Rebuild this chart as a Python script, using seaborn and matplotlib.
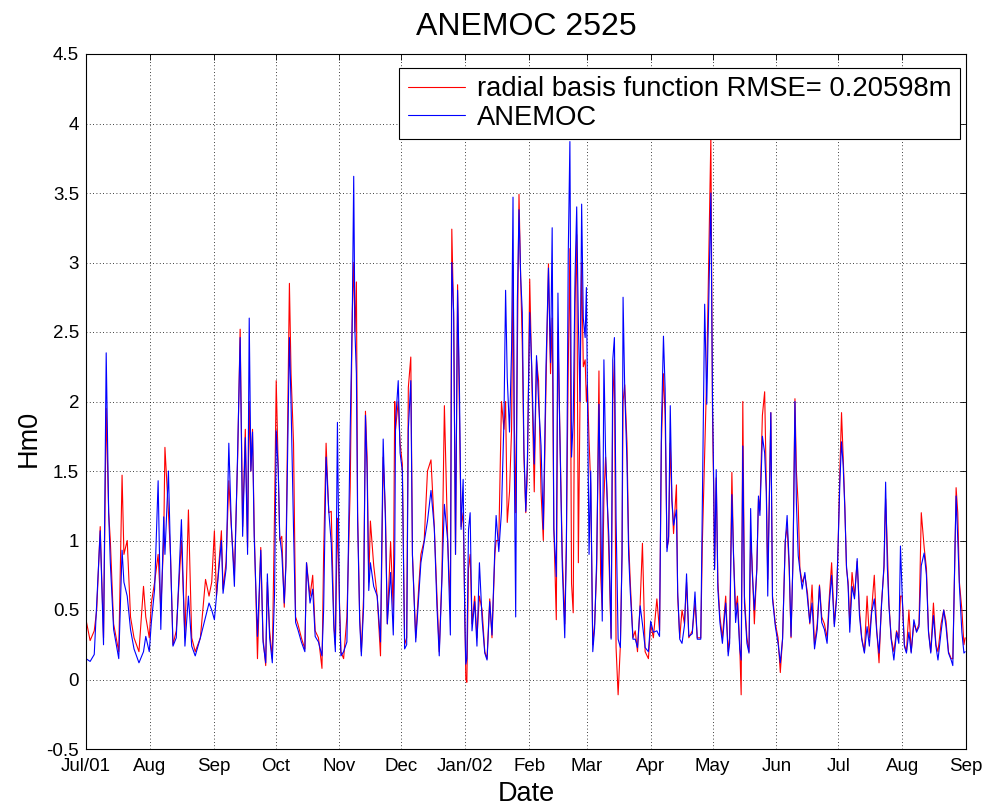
import numpy as np
import pandas as pd
import matplotlib
matplotlib.use("Agg")
import matplotlib.pyplot as plt
import matplotlib.dates as mdates
import seaborn as sns

# ---- data (days since 2001-07-01) ----
days = [0, 2, 4, 5.2, 6.9, 8.5, 9.8, 11, 11.8, 13.4, 15.9, 17.5, 18.4, 20, 21.6, 23.3, 25.7, 27.9, 29, 30.7,
        31.7, 33.3, 35, 36.3, 37.7, 38.3, 40, 41, 42.2, 43.8, 46.3, 48, 49.7, 51.3, 53, 55.5, 58, 59.7, 61,
        62.3, 63.3, 65.7, 66.5, 68, 69.3, 70.5, 72, 73.6, 74.8, 76, 77.3, 78.4, 79.2, 80, 80.8, 81.6, 83.2, 84.8,
        85.9, 87.2, 88, 89.1, 90.4, 91.5,
        92.3, 93.3, 94, 95, 96.2, 97, 98.7, 99.5, 100.7, 101.7, 102.8, 104.5, 106.2, 107, 108.7, 110, 111.2,
        112.8, 114.5, 115.3, 116.5, 117.8, 119, 120.3, 121, 122,
        123, 123.7, 125, 126.6, 128.2, 129.2, 129.9, 130.5, 131.2, 131.8, 132.8, 133.6, 134.7, 135.6, 136.4,
        137.2, 138, 139.6, 141.3, 142.9, 144.2, 145.3, 146.2, 147.8, 149.1, 149.8, 150.2, 151.5, 152.4,
        153.5, 154.6, 155.6, 156.4, 157.6, 158.4, 160, 161.6, 162.5, 164.1, 165.7, 167.4, 169, 170.3, 171.4,
        172.7, 173.9, 175.5, 176.8, 177.5, 178.4, 179.3, 180.3, 181.2, 182, 183, 183.8,
        184.3, 184.8, 185.6, 186.4, 187.3, 188.6, 189.7, 190.9, 192.2, 193.5, 194.6, 195.9, 197, 198.4, 199,
        200.3, 201.6, 202.8, 203.6, 204.4, 205.5, 206.5, 207.2, 207.8, 208.5, 209.3, 210.1, 210.9, 211.7,
        212.5, 213.4, 214.2,
        215.3, 216.3, 217.5, 218.6, 219.6, 220.8, 221.9, 223.2, 224.4, 225.4, 226.2, 227, 228.2, 229, 229.8,
        231.1, 232.3, 233.1, 234, 234.8, 235.6, 236.4, 237.3, 238.1, 238.9, 239.7, 240.5, 241.3, 242.2, 242.8,
        243.3, 244.1, 244.9, 245.9, 246.8, 247.8, 248.9, 249.7, 250.5, 251.3, 252.1, 252.9, 253.7, 254.8,
        255.6, 256.4, 257.2, 258.2, 259.3, 260.1, 260.6, 261.4, 262.5, 263.3, 264.1, 265.4, 266.5, 267.6,
        268.9, 270, 271.3, 272.9,
        274, 275.3, 277, 278.3, 279.2, 280.2, 281, 281.9, 282.7, 283.5, 284.3, 285.1, 286.5, 287.1, 288.1,
        289.2, 290.4, 291.4, 292.5, 294.2, 295.5, 296.6, 298.3, 299.1, 300.2, 301.2, 302.4, 303.2, 304, 304.6,
        305, 305.8, 306.6, 307.6, 308.8, 310.4, 311.6, 312.3, 313.4, 314.2, 315.2, 316.1, 317.2, 317.9, 318.7,
        319.5, 320.7, 321.7, 322.5, 323.2, 324.3, 325.5, 326.3, 327, 328.2, 329.3, 330.1, 330.8, 332.3, 333.1,
        334.5,
        335.8, 336.9, 338, 339.3, 340.2, 341.2, 342.1, 343.1, 344, 344.7, 345.6, 346.4, 347.5, 348.8, 350.1,
        351.2, 352.3, 353.5, 354.8, 355.9, 357, 358.3, 359.6, 360.7, 361.8, 363.1, 364.2,
        365, 365.8, 366.6, 367.4, 368.2, 369, 369.8, 370.6, 371.7, 372.9, 374.2, 375.3, 376.4, 377.7, 379,
        380.1, 381.2, 382.5, 383.7, 384.8, 386, 387.2, 388, 388.8, 389.6, 390.7, 392, 393.3, 394.4, 395.2,
        396, 397.1, 398.1, 399.3, 400.4, 401.7, 403, 404.2, 405.3, 406.7, 407.8, 408.8, 409.9, 411.2, 412.4,
        413.4, 414.9, 416.2, 417.3, 418.5, 419.8, 420.6, 421.7, 422.2, 423, 423.8, 425, 426, 426.6]

anemoc = [0.15, 0.13, 0.18, 0.55, 1.07, 0.25, 2.35, 1.2, 0.84, 0.36, 0.15, 0.93, 0.7, 0.6, 0.36, 0.22, 0.12, 0.2, 0.31, 0.2,
          0.41, 0.65, 1.43, 0.36, 1.17, 0.9, 1.5, 0.89, 0.24, 0.3, 1.15, 0.24, 0.6, 0.24, 0.17, 0.3, 0.45, 0.55, 0.5,
          0.43, 0.6, 1.0, 0.62, 0.8, 1.7, 1.12, 0.67, 1.65, 2.46, 1.03, 1.74, 0.9, 2.6, 1.5, 1.78, 1.03, 0.31, 0.93,
          0.27, 0.12, 0.76, 0.3, 0.12, 0.62,
          1.79, 1.5, 1.03, 0.91, 0.55, 0.81, 2.46, 1.98, 1.08, 0.41, 0.36, 0.27, 0.2, 0.84, 0.55, 0.65, 0.31,
          0.27, 0.17, 0.5, 1.6, 1.21, 0.98, 0.36, 0.2, 1.85,
          0.52, 0.17, 0.2, 0.27, 1.8, 2.6, 3.62, 2.5, 2.2, 1.14, 0.42, 0.17, 0.52, 1.9, 1.5,
          0.64, 0.84, 0.67, 0.6, 0.27, 1.73, 1.14, 0.4, 0.77, 0.32, 0.9, 1.85, 2.15, 1.63,
          1.5, 0.22, 0.25, 1.8, 2.15, 0.89, 0.27, 0.64, 0.84, 0.99, 1.14, 1.36, 1.09, 0.52, 0.17,
          0.72, 1.26, 1.0, 0.32, 3.0, 2.64, 0.9, 2.8, 2.1, 1.08, 1.44, 0.43,
          0.11, 0.15, 1.08, 1.2, 0.35, 0.56, 0.24, 0.84, 0.43, 0.19, 0.14, 0.56, 0.32, 0.95, 1.18,
          0.92, 1.21, 1.86, 2.8, 2.17, 1.78, 2.38, 3.47, 1.6, 0.45, 2.72, 3.38, 2.9, 2.64,
          1.65, 1.21, 1.6,
          2.64, 2.25, 1.55, 2.33, 2.0, 1.68, 1.08, 2.25, 2.96, 2.28, 3.25, 1.08, 0.74, 2.78, 1.86,
          0.82, 0.3, 0.95, 3.06, 3.87, 1.6, 1.86, 2.9, 3.4, 2.57, 2.0, 3.42, 2.6, 2.46, 2.82,
          2.09, 0.9, 1.5, 0.2, 0.37, 0.87, 1.98, 1.29, 0.42, 2.3, 1.64, 1.29, 1.03, 0.29,
          2.3, 2.46, 1.16, 0.29, 0.23, 0.9, 2.75, 2.09, 1.56, 0.9, 0.63, 0.29, 0.29, 0.23,
          0.53, 0.4, 0.23, 0.2,
          0.42, 0.34, 0.35, 0.31, 1.8, 2.47, 2.09, 0.92, 1.03, 1.97, 1.29, 1.11, 1.22, 0.63, 0.29,
          0.26, 0.39, 0.76, 0.31, 0.33, 0.63, 0.29, 0.29, 1.29, 2.7, 1.98, 2.9, 3.5, 2.0, 1.4,
          0.79, 1.51, 0.65, 0.41, 0.26, 0.55, 0.17, 0.26, 1.33, 0.89, 0.41, 0.55, 0.22, 0.14, 1.68,
          0.55, 0.26, 0.19, 1.23, 0.79, 0.5, 0.79, 1.32, 1.18, 1.75, 1.63, 1.35, 0.6, 1.92, 0.58,
          0.38,
          0.26, 0.12, 0.29, 0.99, 1.18, 0.84, 0.31, 0.89, 2.0, 1.27, 0.89, 0.79, 0.65, 0.77, 0.58,
          0.41, 0.55, 0.22, 0.36, 0.67, 0.41, 0.36, 0.26, 0.55, 0.75, 0.38, 0.58,
          0.99, 1.42, 1.71, 1.54, 1.23, 0.82, 0.67, 0.34, 0.67, 0.58, 0.87, 0.46, 0.29, 0.19, 0.38,
          0.24, 0.48, 0.58, 0.34, 0.19, 0.53, 0.82, 1.42, 0.82, 0.53, 0.29, 0.14, 0.34, 0.26, 0.96,
          0.62, 0.24, 0.19, 0.34, 0.19, 0.43, 0.34, 0.38, 0.82, 0.91, 0.75, 0.34, 0.19, 0.46, 0.24,
          0.14, 0.34, 0.5, 0.38, 0.19, 0.14, 0.1, 0.99, 1.32, 1.01, 0.67, 0.34, 0.19, 0.2]

rbf = [0.43, 0.28, 0.35, 0.5, 1.1, 0.3, 1.95, 1.2, 1.0, 0.4, 0.2, 1.47, 0.9, 1.0, 0.45, 0.3, 0.2, 0.67, 0.45, 0.3,
       0.55, 0.7, 0.9, 0.5, 1.0, 1.67, 1.2, 0.9, 0.25, 0.35, 1.0, 0.3, 1.22, 0.3, 0.2, 0.3, 0.72, 0.6, 0.7,
       1.07, 0.6, 1.07, 0.65, 0.85, 1.43, 1.1, 0.75, 1.6, 2.52, 1.1, 1.8, 0.95, 2.0, 1.5, 1.8, 1.1, 0.15, 0.95,
       0.3, 0.1, 0.7, 0.35, 0.15, 1.22,
       2.15, 1.5, 1.0, 1.03, 0.52, 0.85, 2.85, 2.2, 1.7, 0.45, 0.4, 0.3, 0.22, 0.84, 0.6, 0.75, 0.35,
       0.3, 0.08, 0.9, 1.7, 1.2, 1.21, 0.4, 0.25, 1.16,
       0.55, 0.2, 0.15, 0.45, 1.38, 2.64, 3.0, 2.5, 2.86, 1.2, 0.45, 0.2, 0.6, 1.93, 1.6,
       0.7, 1.14, 0.82, 0.6, 0.17, 1.6, 1.2, 0.4, 0.99, 0.5, 2.0, 1.8, 2.0, 1.7,
       1.55, 0.25, 0.3, 2.1, 2.32, 0.9, 0.3, 0.7, 0.9, 1.0, 1.5, 1.58, 1.1, 0.6, 0.2,
       0.75, 1.97, 1.0, 0.52, 3.24, 2.6, 0.9, 2.84, 1.9, 1.1, 1.2, 0.5,
       0.0, -0.02, 0.8, 0.9, 0.4, 0.6, 0.3, 0.6, 0.5, 0.2, 0.15, 0.58, 0.3, 0.9, 1.0,
       1.0, 2.0, 1.8, 2.0, 1.13, 1.35, 1.8, 3.0, 1.9, 1.2, 2.38, 3.49, 2.9, 2.4,
       1.6, 1.2, 1.5,
       2.88, 2.2, 1.35, 2.3, 2.15, 1.35, 1.0, 2.1, 2.99, 2.2, 2.6, 1.1, 0.43, 2.5, 1.9,
       0.9, 0.4, 1.0, 2.25, 3.1, 0.69, 0.48, 2.7, 3.2, 0.84, 2.0, 3.0, 2.25, 2.3, 2.0,
       2.12, 1.72, 1.4, 0.25, 0.4, 0.8, 2.22, 0.76, 0.5, 1.3, 1.6, 1.3, 0.9, 0.3,
       2.0, 2.3, 0.23, -0.11, 0.25, 0.9, 2.0, 2.12, 1.7, 1.0, 0.7, 0.3, 0.35, 0.2,
       0.55, 0.98, 0.2, 0.15,
       0.4, 0.3, 0.58, 0.35, 1.7, 2.2, 1.9, 0.95, 1.0, 1.7, 1.3, 1.05, 1.4, 0.6, 0.3,
       0.5, 0.4, 0.7, 0.3, 0.35, 0.55, 0.3, 0.3, 1.0, 1.64, 2.2, 3.2, 3.9, 1.9, 1.32,
       0.8, 1.45, 0.7, 0.45, 0.3, 0.6, 0.2, 0.3, 1.49, 0.9, 0.5, 0.6, 0.25, -0.11, 2.0,
       0.6, 0.3, 0.2, 1.0, 0.85, 0.4, 0.8, 1.3, 1.22, 1.9, 2.07, 1.4, 0.72, 1.92, 0.6,
       0.4,
       0.3, 0.05, 0.3, 1.0, 1.1, 0.8, 0.3, 0.9, 2.02, 1.5, 1.25, 0.8, 0.7, 0.75, 0.62,
       0.4, 0.68, 0.25, 0.4, 0.68, 0.45, 0.4, 0.3, 0.6, 0.84, 0.4, 0.6,
       1.0, 1.5, 1.92, 1.6, 1.25, 0.8, 0.7, 0.4, 0.77, 0.6, 0.85, 0.5, 0.3, 0.2, 0.6,
       0.3, 0.5, 0.75, 0.35, 0.12, 0.55, 0.8, 1.3, 0.96, 0.55, 0.3, 0.2, 0.35, 0.3, 0.6,
       0.6, 0.25, 0.2, 0.5, 0.2, 0.4, 0.35, 0.4, 1.2, 0.95, 0.8, 0.35, 0.2, 0.55, 0.25,
       0.2, 0.4, 0.5, 0.42, 0.2, 0.15, 0.15, 0.95, 1.38, 1.2, 0.7, 0.5, 0.25, 0.3]

month_labels = ["Jul/01", "Aug", "Sep", "Oct", "Nov", "Dec", "Jan/02", "Feb", "Mar",
                "Apr", "May", "Jun", "Jul", "Aug", "Sep"]
y_ticks = [-0.5, 0, 0.5, 1, 1.5, 2, 2.5, 3, 3.5, 4, 4.5]
y_labels = ["-0.5", "0", "0.5", "1", "1.5", "2", "2.5", "3", "3.5", "4", "4.5"]

RBF_LABEL = "radial basis function RMSE= 0.20598m"
OBS_LABEL = "ANEMOC"

# ---- figure ----
sns.set_style("white")
plt.rcParams["font.family"] = ["Liberation Sans", "DejaVu Sans"]
plt.rcParams["text.color"] = "black"
plt.rcParams["axes.labelcolor"] = "black"

n = len(days)
assert len(anemoc) == n and len(rbf) == n, (n, len(anemoc), len(rbf))
start = pd.Timestamp("2001-07-01")
dates = start + pd.to_timedelta(np.array(days), unit="D")
df = pd.DataFrame({
    "Date": list(dates) + list(dates),
    "Hm0": list(rbf) + list(anemoc),
    "series": [RBF_LABEL] * n + [OBS_LABEL] * n,
})

fig = plt.figure(figsize=(9.85, 8.07), dpi=100)
ax = fig.add_axes([86 / 985, 1 - 749 / 807, 880 / 985, 695 / 807])

sns.lineplot(data=df, x="Date", y="Hm0", hue="series", hue_order=[RBF_LABEL, OBS_LABEL],
             palette=["#ff0000", "#0000ff"], estimator=None, sort=True, linewidth=0.8, ax=ax)

ax.set_xlim(mdates.date2num(start), mdates.date2num(pd.Timestamp("2002-09-01")))
ax.set_ylim(-0.5, 4.5)

month_starts = pd.date_range("2001-07-01", "2002-09-01", freq="MS")
ax.set_xticks(mdates.date2num(month_starts))
ax.set_xticklabels(month_labels)
ax.set_yticks(y_ticks)
ax.set_yticklabels(y_labels)

ax.grid(True, color="black", linestyle=(0, (1, 3)), linewidth=0.6)
ax.tick_params(direction="in", length=4, width=0.6, top=True, right=True,
               labelsize=13.5, colors="black")
ax.tick_params(axis="y", pad=5)
ax.tick_params(axis="x", pad=6.5)
for s in ax.spines.values():
    s.set_color("black")
    s.set_linewidth(0.8)

ax.set_title("ANEMOC 2525", fontsize=23, pad=14, color="black")
ax.set_xlabel("Date", fontsize=19.5, labelpad=4)
ax.set_ylabel("Hm0", fontsize=19.5)
ax.yaxis.set_label_coords(-0.05, 0.447)

handles, labels = ax.get_legend_handles_labels()
leg = ax.legend(handles, labels, loc="upper right", bbox_to_anchor=(0.9932, 0.98),
                borderaxespad=0, fontsize=19.7, frameon=True, fancybox=False,
                framealpha=1, edgecolor="black", handlelength=2.1, handletextpad=0.45,
                borderpad=0.3, labelspacing=0.1)
leg.get_frame().set_linewidth(0.8)

fig.savefig("out.png", dpi=100)
